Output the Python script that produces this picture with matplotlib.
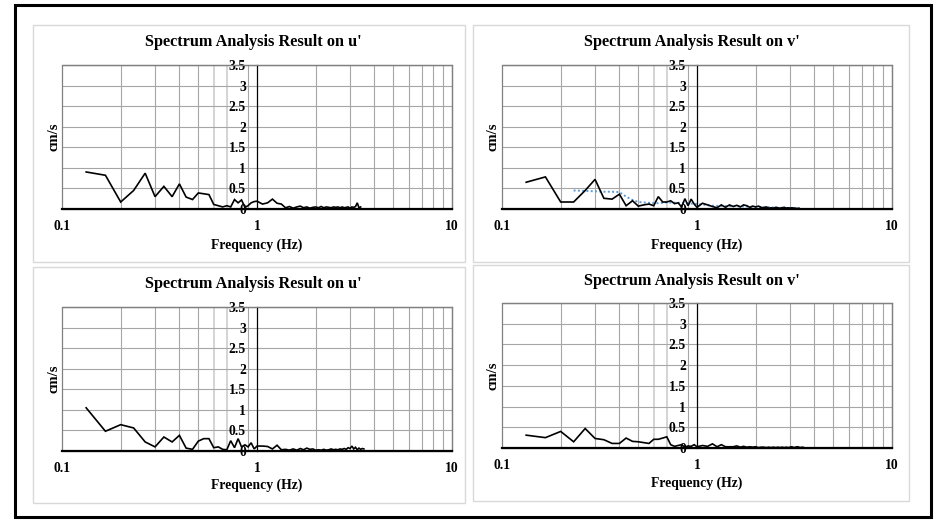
import matplotlib
matplotlib.use("Agg")
import matplotlib.pyplot as plt
from matplotlib.patches import Rectangle
from matplotlib.ticker import FixedLocator, NullFormatter

plt.rcParams['font.family'] = ['Liberation Serif', 'DejaVu Serif']
plt.rcParams['font.weight'] = 'bold'

# ---------------- data ----------------
freq = [0.133, 0.167, 0.2, 0.233, 0.267, 0.3, 0.333, 0.367, 0.4, 0.433,
        0.467, 0.5, 0.533, 0.567, 0.6, 0.633, 0.667, 0.7, 0.733, 0.767,
        0.8, 0.833, 0.867, 0.9, 0.933, 0.967, 1.0,
        1.067, 1.133, 1.2, 1.267, 1.333, 1.4, 1.467, 1.533, 1.6, 1.667,
        1.733, 1.8, 1.867, 1.933, 2.0, 2.067, 2.133, 2.2, 2.267, 2.333,
        2.4, 2.467, 2.533, 2.6, 2.667, 2.733, 2.8, 2.867, 2.933, 3.0,
        3.067, 3.133, 3.2, 3.267, 3.333, 3.4, 3.467, 3.533]

u_top = [0.90, 0.82, 0.17, 0.45, 0.87, 0.30, 0.55, 0.30, 0.61, 0.29,
         0.23, 0.39, 0.37, 0.35, 0.11, 0.08, 0.05, 0.08, 0.05, 0.23,
         0.15, 0.22, 0.04, 0.08, 0.15, 0.18, 0.19,
         0.12, 0.15, 0.24, 0.14, 0.12, 0.03, 0.06, 0.02, 0.05, 0.07,
         0.03, 0.05, 0.02, 0.04, 0.05, 0.03, 0.06, 0.03, 0.05, 0.04,
         0.03, 0.05, 0.04, 0.05, 0.03, 0.05, 0.03, 0.04, 0.05, 0.02,
         0.05, 0.04, 0.06, 0.15, 0.03, 0.05]

v_top = [0.65, 0.78, 0.17, 0.17, 0.45, 0.72, 0.26, 0.24, 0.36, 0.08,
         0.20, 0.07, 0.10, 0.12, 0.08, 0.30, 0.17, 0.17, 0.20, 0.13,
         0.15, 0.05, 0.25, 0.08, 0.24, 0.12, 0.04,
         0.14, 0.10, 0.06, 0.03, 0.10, 0.04, 0.10, 0.06, 0.09, 0.05,
         0.10, 0.08, 0.04, 0.07, 0.05, 0.07, 0.04, 0.03, 0.05, 0.02,
         0.03, 0.02, 0.04, 0.03, 0.02, 0.03, 0.04, 0.02, 0.03, 0.02,
         0.03, 0.02, 0.02, 0.01, 0.02]

v_top_trend_f = [0.233, 0.267, 0.3, 0.333, 0.367, 0.4, 0.433, 0.467, 0.5,
                 0.567, 0.633, 0.7, 0.8, 0.9, 1.0, 1.2, 1.4, 1.6, 1.8, 2.0,
                 2.2, 2.4, 2.6, 2.8, 3.0, 3.3]
v_top_trend = [0.45, 0.44, 0.43, 0.42, 0.42, 0.41, 0.30, 0.22, 0.17,
               0.15, 0.14, 0.16, 0.15, 0.14, 0.12, 0.08, 0.07, 0.07, 0.06,
               0.05, 0.05, 0.04, 0.03, 0.03, 0.02, 0.02]

u_bot = [1.05, 0.48, 0.64, 0.56, 0.22, 0.10, 0.34, 0.22, 0.38, 0.07,
         0.04, 0.24, 0.30, 0.30, 0.08, 0.10, 0.04, 0.03, 0.25, 0.08,
         0.30, 0.10, 0.15, 0.10, 0.20, 0.05, 0.12,
         0.12, 0.11, 0.05, 0.14, 0.03, 0.04, 0.02, 0.05, 0.02, 0.06,
         0.03, 0.07, 0.04, 0.05, 0.02, 0.03, 0.02, 0.04, 0.02, 0.03,
         0.05, 0.03, 0.04, 0.03, 0.05, 0.04, 0.06, 0.04, 0.08, 0.06,
         0.12, 0.05, 0.09, 0.03, 0.07, 0.04, 0.06, 0.05]

v_bot = [0.31, 0.25, 0.40, 0.15, 0.47, 0.23, 0.20, 0.11, 0.11, 0.24,
         0.16, 0.15, 0.13, 0.11, 0.21, 0.21, 0.24, 0.27, 0.08, 0.04,
         0.06, 0.08, 0.02, 0.05, 0.04, 0.08, 0.03,
         0.06, 0.04, 0.10, 0.03, 0.08, 0.03, 0.03, 0.03, 0.05, 0.02,
         0.04, 0.02, 0.03, 0.02, 0.03, 0.01, 0.02, 0.02, 0.01, 0.02,
         0.01, 0.02, 0.01, 0.02, 0.01, 0.02, 0.01, 0.02, 0.01, 0.02,
         0.03, 0.01, 0.02, 0.03, 0.02, 0.01, 0.02, 0.01]

titles = ["Spectrum Analysis Result on u'", "Spectrum Analysis Result on v'",
          "Spectrum Analysis Result on u'", "Spectrum Analysis Result on v'"]
x_ticks = [0.1, 1, 10]
x_tick_labels = ["0.1", "1", "10"]
y_ticks = [0, 0.5, 1, 1.5, 2, 2.5, 3, 3.5]
y_tick_labels = ["0", "0.5", "1", "1.5", "2", "2.5", "3", "3.5"]
minor_grid = [0.2, 0.3, 0.4, 0.5, 0.6, 0.7, 0.9,
              2, 3, 4, 5, 6, 7, 8, 9]
light_grid = [0.6, 0.7]

# ---------------- layout (pixels) ----------------
W, H = 935, 520
fig = plt.figure(figsize=(W / 100, H / 100), dpi=100)


def frect(l, t, r, b):
    return [l / W, 1 - b / H, (r - l) / W, (b - t) / H]


panels = [
    dict(vals=u_top, plot=(62, 65, 452, 209), box=(33, 25, 465, 262),
         title_xy=(253, 42), xlab_y=245, ylab_x=54),
    dict(vals=v_top, plot=(502, 65, 892, 209), box=(473, 25, 909, 262),
         title_xy=(692, 42), xlab_y=245, ylab_x=493),
    dict(vals=u_bot, plot=(62, 307, 452, 451), box=(33, 267, 465, 503),
         title_xy=(253, 284), xlab_y=485, ylab_x=54),
    dict(vals=v_bot, plot=(502, 303, 892, 448), box=(473, 265, 909, 501),
         title_xy=(692, 281), xlab_y=483, ylab_x=493),
]

# outer frame
fig.add_artist(Rectangle((15 / W, 1 - 517 / H), (931 - 15) / W, (517 - 5) / H,
                         transform=fig.transFigure, fill=False,
                         ec='black', lw=2.2))

for i, p in enumerate(panels):
    l, t, r, b = p['box']
    fig.add_artist(Rectangle((l / W, 1 - b / H), (r - l) / W, (b - t) / H,
                             transform=fig.transFigure, fill=False,
                             ec='#d9d9d9', lw=1.0))
    ax = fig.add_axes(frect(*p['plot']))
    ax.set_xscale('log')
    ax.set_xlim(0.1, 10)
    ax.set_ylim(0, 3.5)

    # grid
    ax.xaxis.set_minor_locator(FixedLocator(minor_grid))
    ax.xaxis.set_minor_formatter(NullFormatter())
    for g in minor_grid:
        c = '#d4d4d4' if g in light_grid else '#a6a6a6'
        lw = 1.4 if g in light_grid else 0.8
        ax.axvline(g, color=c, lw=lw, zorder=0)
    for yv in y_ticks[1:]:
        ax.axhline(yv, color='#a6a6a6', lw=0.8, zorder=0)

    ax.plot(freq[:len(p['vals'])], p['vals'], color='black', lw=1.2,
            zorder=3, solid_joinstyle='miter')
    if i == 1:
        ax.plot(v_top_trend_f, v_top_trend, color='#5b9bd5', lw=1.4,
                ls=(0, (1, 1.2)), zorder=2)

    # spines
    for s in ['top', 'right']:
        ax.spines[s].set_color('#808080')
        ax.spines[s].set_linewidth(0.9)
    ax.spines['bottom'].set_color('black')
    ax.spines['bottom'].set_linewidth(1.6)
    ax.spines['bottom'].set_zorder(4)
    ax.spines['left'].set_position(('data', 1))
    ax.spines['left'].set_color('black')
    ax.spines['left'].set_linewidth(0.9)
    ax.add_patch(Rectangle((0, 0), 1, 1, transform=ax.transAxes, fill=False,
                           ec='#808080', lw=0.9, zorder=1, clip_on=False))

    ax.set_xticks(x_ticks)
    ax.set_xticklabels(x_tick_labels)
    ax.set_yticks(y_ticks)
    ax.set_yticklabels(y_tick_labels)
    ax.tick_params(axis='x', which='both', length=0, pad=8, labelsize=9.8)
    ax.tick_params(axis='y', length=0, pad=8, labelsize=9.8)
    for lab in ax.get_xticklabels() + ax.get_yticklabels():
        lab.set_fontweight('bold')
    ax.set_facecolor('none')

    fig.text(p['title_xy'][0] / W, 1 - p['title_xy'][1] / H, titles[i],
             ha='center', va='center', fontsize=11.7, fontweight='bold')
    cx = (p['plot'][0] + p['plot'][2]) / 2
    fig.text(cx / W, 1 - p['xlab_y'] / H, 'Frequency (Hz)', ha='center',
             va='center', fontsize=9.8, fontweight='bold')
    cy = (p['plot'][1] + p['plot'][3]) / 2
    fig.text(p['ylab_x'] / W, 1 - cy / H, 'cm/s', ha='center', va='center',
             rotation=90, fontsize=10.5, fontweight='bold')

fig.savefig('out.png', dpi=100, facecolor='white')
